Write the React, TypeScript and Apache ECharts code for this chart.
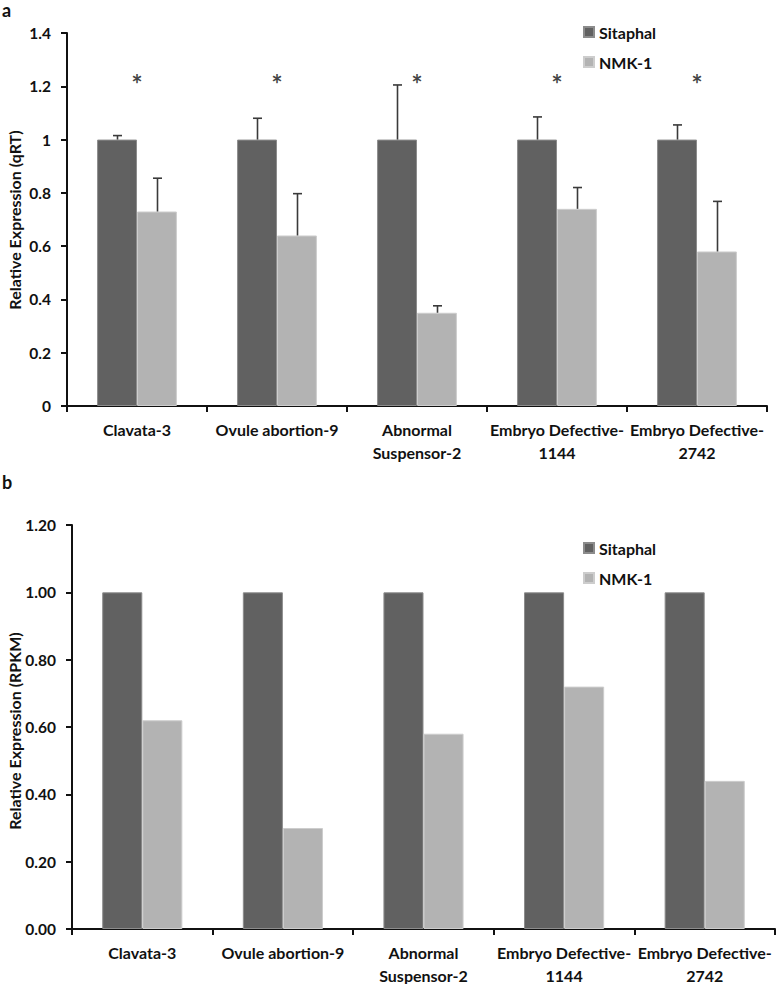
import React, { useEffect, useRef } from "react";
import * as echarts from "echarts";

const categories = [
  "Clavata-3",
  "Ovule abortion-9",
  "Abnormal\nSuspensor-2",
  "Embryo Defective-\n1144",
  "Embryo Defective-\n2742",
];
const seriesNames = ["Sitaphal", "NMK-1"];
const yTitles = ["Relative Expression (qRT)", "Relative Expression (RPKM)"];

// Panel a: qRT
const qrtSitaphal = [1, 1, 1, 1, 1];
const qrtNmk = [0.73, 0.64, 0.35, 0.74, 0.58];
const qrtSitaphalErrTop = [1.015, 1.08, 1.205, 1.085, 1.055];
const qrtNmkErrTop = [0.855, 0.797, 0.376, 0.82, 0.768];
const significance = ["*", "*", "*", "*", "*"];
const starLevel = 1.21;
const qrtTicks = { min: 0, max: 1.4, interval: 0.2 };

// Panel b: RPKM
const rpkmSitaphal = [1, 1, 1, 1, 1];
const rpkmNmk = [0.62, 0.3, 0.58, 0.72, 0.44];
const rpkmTicks = { min: 0, max: 1.2, interval: 0.2 };

const DARK = "#616161";
const LIGHT = "#b3b3b3";
const FONT = "Lato";

export default function App() {
  const ref = useRef<HTMLDivElement>(null);
  useEffect(() => {
    if (!ref.current) return;
    const chart = echarts.init(ref.current, null, { renderer: "svg" });

    const catGapPct = 0.43;
    const errorSeries = (
      gridIdx: number,
      base: number[],
      tops: number[],
      side: number
    ) => ({
      type: "custom",
      name: "err" + gridIdx + side,
      xAxisIndex: gridIdx,
      yAxisIndex: gridIdx,
      z: 5,
      silent: true,
      data: base.map((v, i) => [i, v, tops[i]]),
      encode: { x: 0, y: [1, 2] },
      renderItem: (params: any, api: any) => {
        const i = api.value(0);
        const b = api.coord([i, api.value(1)]);
        const t = api.coord([i, api.value(2)]);
        const catW = api.size([1, 0])[0];
        const off = ((catW * (1 - catGapPct)) / 4) * side;
        const x = Math.round(b[0] + off) + 0.5;
        const st = { stroke: "#3a3a3a", lineWidth: 1.6 };
        return {
          type: "group",
          children: [
            { type: "line", shape: { x1: x, y1: b[1], x2: x, y2: t[1] }, style: st },
            { type: "line", shape: { x1: x - 4.5, y1: t[1], x2: x + 4.5, y2: t[1] }, style: st },
          ],
        };
      },
    });

    const axisText = { fontFamily: FONT, fontWeight: "bold", fontSize: 16, color: "#111" };
    const axisLine = { show: true, lineStyle: { color: "#111", width: 2 } };

    const xAxisDef = (gridIndex: number) => ({
      type: "category",
      gridIndex,
      data: categories,
      boundaryGap: true,
      axisLine,
      axisTick: { show: true, length: 6, lineStyle: { color: "#111", width: 2 } },
      axisLabel: { ...axisText, interval: 0, margin: 12, lineHeight: 23 },
      splitLine: { show: false },
    });

    const yAxisDef = (gridIndex: number, ticks: any, fmt: (v: number) => string) => ({
      type: "value",
      gridIndex,
      min: ticks.min,
      max: ticks.max,
      interval: ticks.interval,
      axisLine,
      axisTick: { show: true, length: 6, lineStyle: { color: "#111", width: 2 } },
      axisLabel: { ...axisText, fontSize: 15.5, margin: 16, formatter: fmt },
      splitLine: { show: false },
    });

    const barSeries = (gridIdx: number, name: string, data: number[], color: string, border: string) => ({
      type: "bar",
      name,
      xAxisIndex: gridIdx,
      yAxisIndex: gridIdx,
      data,
      barGap: "0%",
      barCategoryGap: catGapPct * 100 + "%",
      itemStyle: { color, borderColor: border, borderWidth: 1 },
    });

    const legendDef = (top: number) => ({
      data: seriesNames,
      orient: "vertical",
      left: 578,
      top,
      itemWidth: 10,
      itemHeight: 10,
      itemGap: 12,
      icon: "rect",
      textStyle: { fontFamily: FONT, fontWeight: "bold", fontSize: 16, lineHeight: 18, color: "#111" },
    });

    const yTitle = (text: string, x: number, y: number) => ({
      type: "text",
      x,
      y,
      rotation: Math.PI / 2,
      style: {
        text,
        fontFamily: FONT,
        fontWeight: "bold",
        fontSize: 16,
        fill: "#111",
        align: "center",
        verticalAlign: "middle",
      },
    });

    chart.setOption({
      animation: false,
      backgroundColor: "#fff",
      textStyle: { fontFamily: FONT },
      grid: [
        { left: 67, top: 33, right: 11, bottom: 578, containLabel: false, outerBoundsMode: "none" },
        { left: 72, top: 525, right: 3, bottom: 55, containLabel: false, outerBoundsMode: "none" },
      ],
      legend: [legendDef(18), legendDef(534)],
      xAxis: [xAxisDef(0), xAxisDef(1)],
      yAxis: [
        yAxisDef(0, qrtTicks, (v: number) => String(Math.round(v * 10) / 10)),
        yAxisDef(1, rpkmTicks, (v: number) => v.toFixed(2)),
      ],
      graphic: [
        { type: "text", left: 2, top: 1, style: { text: "a", fontFamily: FONT, fontWeight: "bold", fontSize: 18, fill: "#111" } },
        { type: "text", left: 2, top: 473, style: { text: "b", fontFamily: FONT, fontWeight: "bold", fontSize: 18, fill: "#111" } },
        yTitle(yTitles[0], 14, 220),
        yTitle(yTitles[1], 14, 731),
      ],
      series: [
        barSeries(0, seriesNames[0], qrtSitaphal, DARK, "#8c8c8c"),
        barSeries(0, seriesNames[1], qrtNmk, LIGHT, "#cdcdcd"),
        errorSeries(0, qrtSitaphal, qrtSitaphalErrTop, -1),
        errorSeries(0, qrtNmk, qrtNmkErrTop, 1),
        {
          type: "scatter",
          name: "significance",
          xAxisIndex: 0,
          yAxisIndex: 0,
          symbolSize: 0,
          silent: true,
          data: significance.map((s, i) => [i, starLevel]),
          label: {
            show: true,
            position: "inside",
            formatter: (p: any) => significance[p.dataIndex],
            fontFamily: FONT,
            fontWeight: "bold",
            fontSize: 27,
            color: "#111",
          },
        },
        barSeries(1, seriesNames[0], rpkmSitaphal, DARK, "#8c8c8c"),
        barSeries(1, seriesNames[1], rpkmNmk, LIGHT, "#cdcdcd"),
      ],
    });
    return () => chart.dispose();
  }, []);
  return (
    <div
      ref={ref}
      style={{ position: "absolute", left: 0, top: 0, width: 778, height: 984 }}
    />
  );
}
